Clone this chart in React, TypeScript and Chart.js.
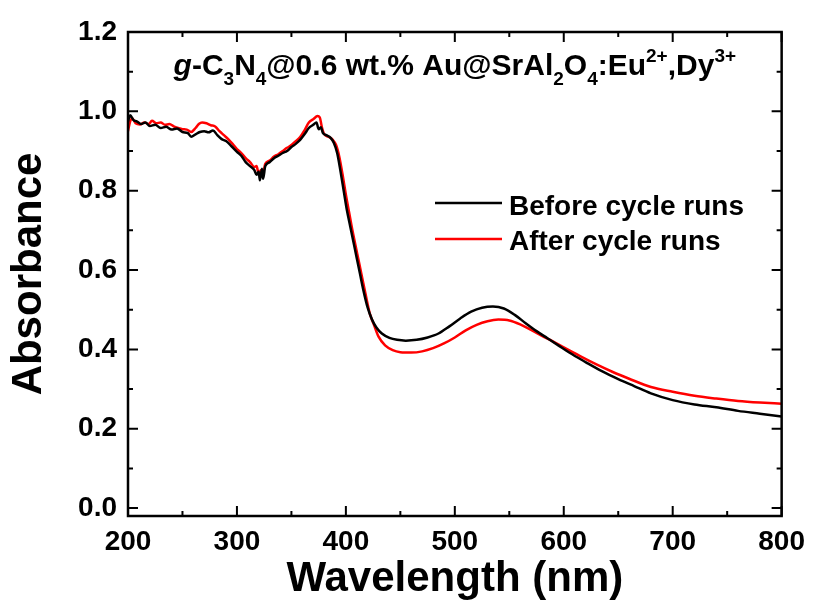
import React, { useEffect, useRef } from 'react';
import { Chart, registerables } from 'chart.js';

Chart.register(...registerables);

const FONT = '"Liberation Sans", Arial, sans-serif';

const beforeNm = [200, 202, 205, 208, 212, 216, 220, 225, 230, 235, 240, 245, 250, 255, 258, 262, 266, 270, 274, 278, 282, 286, 290, 295, 300, 304, 308, 312, 316, 318, 320, 321, 323, 324, 326, 330, 334, 338, 342, 346, 350, 354, 358, 362, 366, 370, 373, 375, 377, 379, 382, 386, 389, 392, 395, 398, 401, 404, 407, 410, 413, 416, 420, 424, 428, 433, 440, 447, 455, 465, 475, 485, 495, 505, 515, 525, 535, 545, 555, 565, 575, 585, 595, 605, 620, 635, 650, 665, 680, 700, 720, 740, 760, 780, 800];
const beforeAbs = [0.975, 0.99, 0.978, 0.975, 0.968, 0.972, 0.963, 0.966, 0.958, 0.961, 0.954, 0.957, 0.948, 0.945, 0.936, 0.942, 0.948, 0.95, 0.947, 0.952, 0.94, 0.93, 0.925, 0.912, 0.898, 0.888, 0.872, 0.862, 0.852, 0.84, 0.848, 0.826, 0.855, 0.83, 0.862, 0.872, 0.882, 0.888, 0.895, 0.9, 0.91, 0.918, 0.928, 0.942, 0.958, 0.966, 0.972, 0.955, 0.96, 0.945, 0.94, 0.933, 0.92, 0.895, 0.85, 0.8, 0.75, 0.71, 0.67, 0.63, 0.59, 0.55, 0.505, 0.475, 0.455, 0.44, 0.429, 0.424, 0.422, 0.424, 0.43, 0.44, 0.458, 0.478, 0.495, 0.505, 0.508, 0.503, 0.487, 0.466, 0.446, 0.428, 0.41, 0.392, 0.368, 0.345, 0.325, 0.307, 0.289, 0.272, 0.261, 0.254, 0.245, 0.238, 0.231];

const afterNm = [200, 202, 204, 207, 211, 215, 219, 222, 226, 230, 234, 238, 242, 246, 250, 254, 258, 262, 265, 268, 272, 276, 280, 284, 288, 292, 296, 300, 304, 308, 312, 316, 318, 320, 322, 324, 326, 330, 334, 338, 342, 346, 350, 354, 358, 362, 366, 370, 374, 376, 378, 380, 384, 388, 391, 394, 397, 400, 403, 406, 409, 412, 415, 418, 422, 426, 430, 436, 443, 450, 460, 470, 480, 490, 500, 510, 520, 530, 540, 550, 560, 570, 580, 590, 600, 615, 630, 645, 660, 680, 700, 720, 740, 760, 780, 800];
const afterAbs = [0.95, 0.975, 0.982, 0.97, 0.967, 0.972, 0.968, 0.976, 0.97, 0.972, 0.966, 0.968, 0.962, 0.958, 0.955, 0.954, 0.948, 0.958, 0.968, 0.972, 0.97, 0.965, 0.962, 0.95, 0.94, 0.93, 0.918, 0.905, 0.895, 0.882, 0.872, 0.86, 0.862, 0.842, 0.852, 0.845, 0.868, 0.876, 0.886, 0.892, 0.9, 0.908, 0.915, 0.925, 0.935, 0.952, 0.972, 0.98, 0.988, 0.985, 0.96, 0.943, 0.936, 0.928, 0.915, 0.885, 0.84, 0.79, 0.745, 0.7, 0.66, 0.62, 0.58, 0.54, 0.49, 0.46, 0.432, 0.41, 0.398, 0.393, 0.392, 0.395, 0.403, 0.415, 0.43, 0.448, 0.462, 0.471, 0.475, 0.473, 0.463, 0.449, 0.434, 0.42, 0.405, 0.383, 0.362, 0.343, 0.326, 0.305, 0.293, 0.283, 0.276, 0.27, 0.266, 0.263];

const seriesLabels = ['Before cycle runs', 'After cycle runs'];
const seriesColors = ['#000000', '#ff0000'];

const xTickValues = [200, 300, 400, 500, 600, 700, 800];
const xMinorValues = [250, 350, 450, 550, 650, 750];
const yTickValues = [0, 0.2, 0.4, 0.6, 0.8, 1.0, 1.2];
const yMinorValues = [0.1, 0.3, 0.5, 0.7, 0.9, 1.1];

const xTitle = 'Wavelength (nm)';
const yTitle = 'Absorbance';

type Seg = { t: string; kind?: 'sub' | 'sup' | 'it' };
const titleSegments: Seg[] = [
  { t: 'g', kind: 'it' },
  { t: '-C' },
  { t: '3', kind: 'sub' },
  { t: 'N' },
  { t: '4', kind: 'sub' },
  { t: '@0.6 wt.% Au@SrAl' },
  { t: '2', kind: 'sub' },
  { t: 'O' },
  { t: '4', kind: 'sub' },
  { t: ':Eu' },
  { t: '2+', kind: 'sup' },
  { t: ',Dy' },
  { t: '3+', kind: 'sup' },
];

const framePlugin = {
  id: 'frameTicks',
  afterDraw(chart: any) {
    const { ctx, chartArea, scales } = chart;
    const { left, right, top, bottom } = chartArea;
    const x = scales.x;
    const y = scales.y;
    ctx.save();
    ctx.strokeStyle = '#000';
    ctx.lineWidth = 2;
    const major = 10;
    const minor = 5;
    ctx.beginPath();
    xTickValues.forEach((v) => {
      const p = x.getPixelForValue(v);
      ctx.moveTo(p, bottom); ctx.lineTo(p, bottom - major);
      ctx.moveTo(p, top); ctx.lineTo(p, top + major);
    });
    xMinorValues.forEach((v) => {
      const p = x.getPixelForValue(v);
      ctx.moveTo(p, bottom); ctx.lineTo(p, bottom - minor);
      ctx.moveTo(p, top); ctx.lineTo(p, top + minor);
    });
    yTickValues.forEach((v) => {
      const p = y.getPixelForValue(v);
      ctx.moveTo(left, p); ctx.lineTo(left + major, p);
      ctx.moveTo(right, p); ctx.lineTo(right - major, p);
    });
    yMinorValues.forEach((v) => {
      const p = y.getPixelForValue(v);
      ctx.moveTo(left, p); ctx.lineTo(left + minor, p);
      ctx.moveTo(right, p); ctx.lineTo(right - minor, p);
    });
    ctx.stroke();
    ctx.lineWidth = 2.5;
    ctx.strokeRect(left, top, right - left, bottom - top);
    ctx.restore();
  },
};

const annotationPlugin = {
  id: 'annot',
  afterDraw(chart: any) {
    const { ctx, chartArea } = chart;
    const { left, right } = chartArea;
    ctx.save();
    // title with sub/superscripts
    const baseSize = 30;
    const smallSize = 19;
    const fontFor = (s: Seg) => {
      if (s.kind === 'sub' || s.kind === 'sup') return `bold ${smallSize}px ${FONT}`;
      if (s.kind === 'it') return `italic bold ${baseSize}px ${FONT}`;
      return `bold ${baseSize}px ${FONT}`;
    };
    let total = 0;
    const widths = titleSegments.map((s) => {
      ctx.font = fontFor(s);
      const w = ctx.measureText(s.t).width;
      total += w;
      return w;
    });
    let cx = (left + right) / 2 - total / 2;
    const baseY = 75;
    ctx.fillStyle = '#000';
    ctx.textBaseline = 'alphabetic';
    ctx.textAlign = 'left';
    titleSegments.forEach((s, i) => {
      ctx.font = fontFor(s);
      let yy = baseY;
      if (s.kind === 'sub') yy = baseY + 10;
      if (s.kind === 'sup') yy = baseY - 13;
      ctx.fillText(s.t, cx, yy);
      cx += widths[i];
    });

    // legend
    const legendLineY = [203, 239];
    const legendTextY = [215, 250];
    chart.data.datasets.forEach((ds: any, i: number) => {
      ctx.strokeStyle = ds.borderColor;
      ctx.lineWidth = 2.5;
      ctx.beginPath();
      ctx.moveTo(435, legendLineY[i]);
      ctx.lineTo(502, legendLineY[i]);
      ctx.stroke();
      ctx.fillStyle = '#000';
      ctx.font = `bold 28px ${FONT}`;
      ctx.fillText(ds.label, 509, legendTextY[i]);
    });
    ctx.restore();
  },
};

export default function App() {
  const ref = useRef<HTMLCanvasElement | null>(null);
  useEffect(() => {
    if (!ref.current) return;
    Chart.defaults.font.family = FONT;
    Chart.defaults.color = '#000';
    const chart = new Chart(ref.current, {
      type: 'line',
      data: {
        datasets: [
          {
            label: seriesLabels[0],
            data: beforeNm.map((v, i) => ({ x: v, y: beforeAbs[i] })),
            borderColor: seriesColors[0],
            borderWidth: 2.5,
            pointRadius: 0,
            cubicInterpolationMode: 'monotone',
            fill: false,
          },
          {
            label: seriesLabels[1],
            data: afterNm.map((v, i) => ({ x: v, y: afterAbs[i] })),
            borderColor: seriesColors[1],
            borderWidth: 2.5,
            pointRadius: 0,
            cubicInterpolationMode: 'monotone',
            fill: false,
          },
        ],
      },
      options: {
        animation: false,
        responsive: true,
        maintainAspectRatio: false,
        layout: { padding: { top: 32, right: 30, left: 0, bottom: 0 } },
        plugins: {
          legend: { display: false },
          tooltip: { enabled: false },
          title: { display: false },
        },
        scales: {
          x: {
            type: 'linear',
            min: 200,
            max: 800,
            grid: { display: false, drawTicks: false },
            border: { display: false },
            afterBuildTicks: (s: any) => {
              s.ticks = xTickValues.map((v) => ({ value: v }));
            },
            afterFit: (s: any) => {
              s.height = 86;
            },
            ticks: {
              padding: 9,
              maxRotation: 0,
              font: { size: 28, weight: 'bold' },
              color: '#000',
              callback: (v: any) => String(v),
            },
            title: {
              display: true,
              text: xTitle,
              font: { size: 42, weight: 'bold' },
              color: '#000',
              padding: { top: 0, bottom: -3 },
            },
          },
          y: {
            type: 'linear',
            min: -0.02,
            max: 1.2,
            grid: { display: false, drawTicks: false },
            border: { display: false },
            afterBuildTicks: (s: any) => {
              s.ticks = yTickValues.map((v) => ({ value: v }));
            },
            afterFit: (s: any) => {
              s.width = 128;
            },
            ticks: {
              padding: 11,
              font: { size: 28, weight: 'bold' },
              color: '#000',
              callback: (v: any) => Number(v).toFixed(1),
            },
            title: {
              display: true,
              text: yTitle,
              font: { size: 42, weight: 'bold' },
              color: '#000',
              padding: { top: 4, bottom: 0 },
            },
          },
        },
      },
      plugins: [framePlugin, annotationPlugin],
    } as any);
    return () => chart.destroy();
  }, []);
  return (
    <div style={{ position: 'absolute', left: 0, top: 0, width: 814, height: 602, background: '#fff' }}>
      <canvas ref={ref} />
    </div>
  );
}
